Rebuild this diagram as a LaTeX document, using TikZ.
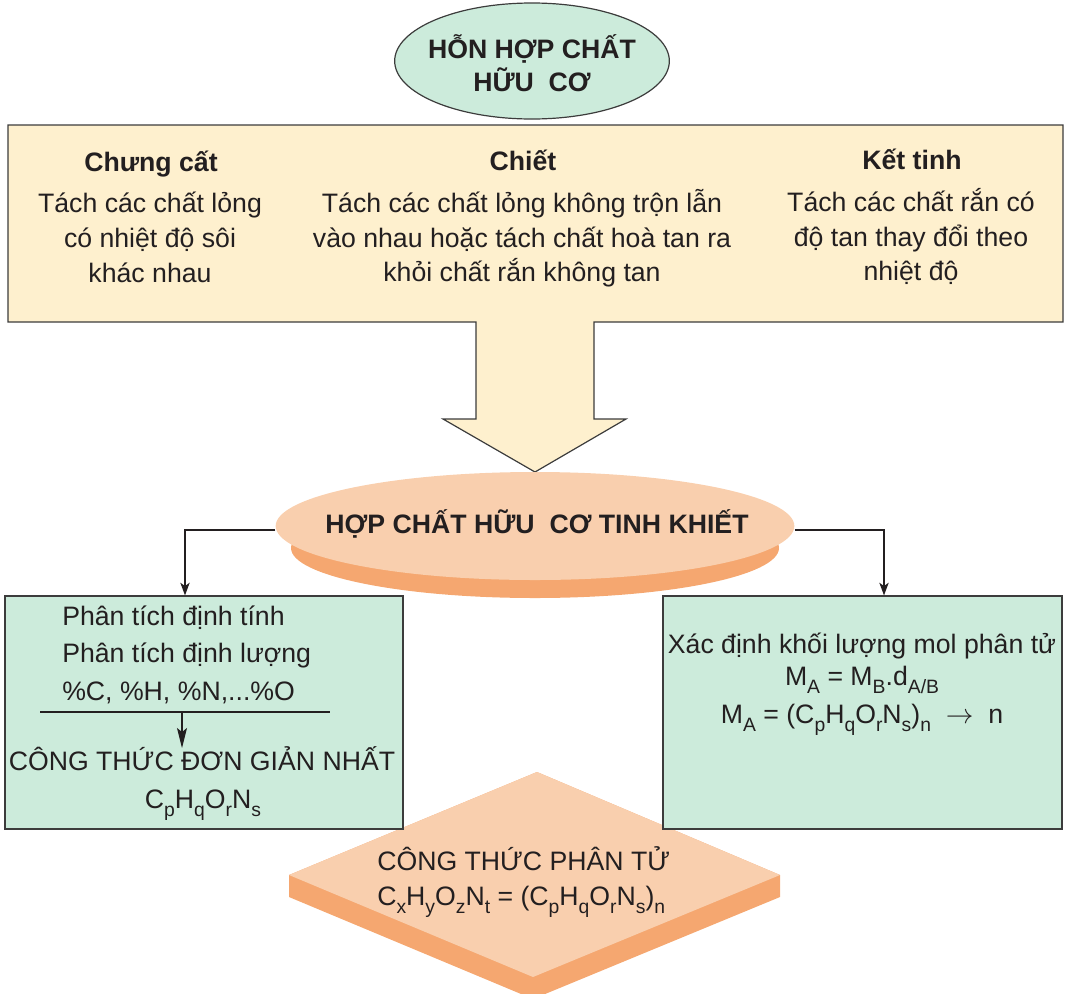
\documentclass[tikz,border=0pt]{standalone}
\usepackage{fontspec}
\setmainfont{Liberation Sans}
\usetikzlibrary{shapes.geometric,arrows.meta}
\definecolor{ink}{HTML}{231F20}
\definecolor{edge}{HTML}{3C3C3C}
\definecolor{boxyellow}{HTML}{FEF0CE}
\definecolor{boxgreen}{HTML}{CCEBDB}
\definecolor{peach}{HTML}{F9CFAE}
\definecolor{peachdark}{HTML}{F5A770}
\newcommand{\sbs}[1]{\raisebox{-0.32em}{\fontsize{14.5}{14.5}\selectfont #1}}
\tikzset{
  txt/.style={text=ink, inner sep=0pt, font=\fontsize{20}{24}\selectfont},
  btxt/.style={text=ink, inner sep=0pt, font=\bfseries\fontsize{20}{24}\selectfont},
  conn/.style={draw=ink, line width=1pt, -{Stealth[length=9.5pt,width=7pt,inset=2.5pt]}},
  conninner/.style={draw=ink, line width=0.9pt, -{Stealth[length=15pt,width=7.5pt,inset=3pt]}},
  greenbox/.style={draw=edge, line width=0.9pt, fill=boxgreen, inner sep=0pt}
}
\begin{document}
\begin{tikzpicture}[x=0.75pt,y=-0.75pt]
\path[use as bounding box] (0,0) rectangle (1066,993);
\clip (0,0) rectangle (1066,993);

% diamond (drawn first, boxes overlap it)
\coordinate (dT) at (537,772);
\coordinate (dL) at (289,875);
\coordinate (dR) at (780,875);
\coordinate (dB) at (533,977);
\fill[peachdark] (dL) -- ++(0,22) -- ([yshift=-16.5pt]dB) -- ([yshift=-16.5pt]dR) -- (dR) -- (dT) -- cycle;
\fill[peach] (dT) -- (dR) -- (dB) -- (dL) -- cycle;
\node[txt, anchor=base west] (d1) at (377,870) {CÔNG THỨC PHÂN TỬ};
\node[txt, anchor=base west] (d2) at (377,905) {C\sbs{x}H\sbs{y}O\sbs{z}N\sbs{t} = (C\sbs{p}H\sbs{q}O\sbs{r}N\sbs{s})\sbs{n}};

% top ellipse
\node[ellipse, draw=edge, line width=0.9pt, fill=boxgreen, minimum width=206pt, minimum height=87pt, inner sep=0pt] (mix) at (532,61) {};
\node[btxt, anchor=base] (mix1) at (532,58) {HỖN HỢP CHẤT};
\node[btxt, anchor=base] (mix2) at (532,91) {HỮU\ \ CƠ};

% top box with big arrow
\draw[edge, line width=0.9pt, fill=boxyellow]
  (8,125) -- (1063,125) -- (1063,322) -- (594,322) -- (594,419) -- (626,419)
  -- (535,472) -- (443,419) -- (476,419) -- (476,322) -- (8,322) -- cycle;
\node[btxt, anchor=base] (h1) at (151,171) {Chưng cất};
\node[txt, anchor=base] (a1) at (150,212) {Tách các chất lỏng};
\node[txt, anchor=base] (a2) at (150,247) {có nhiệt độ sôi};
\node[txt, anchor=base] (a3) at (150,282) {khác nhau};
\node[btxt, anchor=base] (h2) at (523,170) {Chiết};
\node[txt, anchor=base] (b1) at (522,212) {Tách các chất lỏng không trộn lẫn};
\node[txt, anchor=base] (b2) at (522,247) {vào nhau hoặc tách chất hoà tan ra};
\node[txt, anchor=base] (b3) at (522,281) {khỏi chất rắn không tan};
\node[btxt, anchor=base] (h3) at (912,169) {Kết tinh};
\node[txt, anchor=base] (c1) at (911,211) {Tách các chất rắn có};
\node[txt, anchor=base] (c2) at (911,246) {độ tan thay đổi theo};
\node[txt, anchor=base] (c3) at (911,280) {nhiệt độ};

% boxes
\node[greenbox, minimum width=298.5pt, minimum height=174.75pt] (lbox) at (204,712.5) {};
\node[greenbox, minimum width=299.25pt, minimum height=174.75pt] (rbox) at (862.5,712.5) {};

% middle ellipse with shadow
\node[ellipse, fill=peachdark, minimum width=366pt, minimum height=75pt, inner sep=0pt] (midsh) at (535,548) {};
\node[ellipse, fill=peach, minimum width=389pt, minimum height=81pt, inner sep=0pt] (mid) at (535,526) {};
\node[btxt, anchor=base] (midt) at (537,533) {HỢP CHẤT HỮU\ \ CƠ TINH KHIẾT};

% connectors from middle ellipse
\coordinate (lk) at (185,530);
\coordinate (rk) at (884,530);
\draw[conn] (mid.west |- lk) -- (lk) -- (lbox.north -| lk);
\draw[conn] (mid.east |- rk) -- (rk) -- (rbox.north -| rk);

% left box content
\node[txt, anchor=base west] (l1) at (62,625) {Phân tích định tính};
\node[txt, anchor=base west] (l2) at (62,662) {Phân tích định lượng};
\node[txt, anchor=base west] (l3) at (62,700) {\%C, \%H, \%N,...\%O};
\coordinate (ruleL) at (40,712);
\coordinate (ruleR) at (330,712);
\coordinate (ruleM) at (182,712);
\coordinate (ruleT) at (182,748);
\draw[ink, line width=0.9pt] (ruleL) -- (ruleR);
\draw[conninner] (ruleM) -- (ruleT);
\node[txt, anchor=base] (l4) at (202,770) {CÔNG THỨC ĐƠN GIẢN NHẤT};
\node[txt, anchor=base] (l5) at (203,808) {C\sbs{p}H\sbs{q}O\sbs{r}N\sbs{s}};

% right box content
\node[txt, anchor=base] (r1) at (862,653) {Xác định khối lượng mol phân tử};
\node[txt, anchor=base] (r2) at (862,685) {M\sbs{A} = M\sbs{B}.d\sbs{A/B}};
\node[txt, anchor=base] (r3) at (862,723) {M\sbs{A} = (C\sbs{p}H\sbs{q}O\sbs{r}N\sbs{s})\sbs{n} \ $\rightarrow$\ \ n};
\end{tikzpicture}
\end{document}
